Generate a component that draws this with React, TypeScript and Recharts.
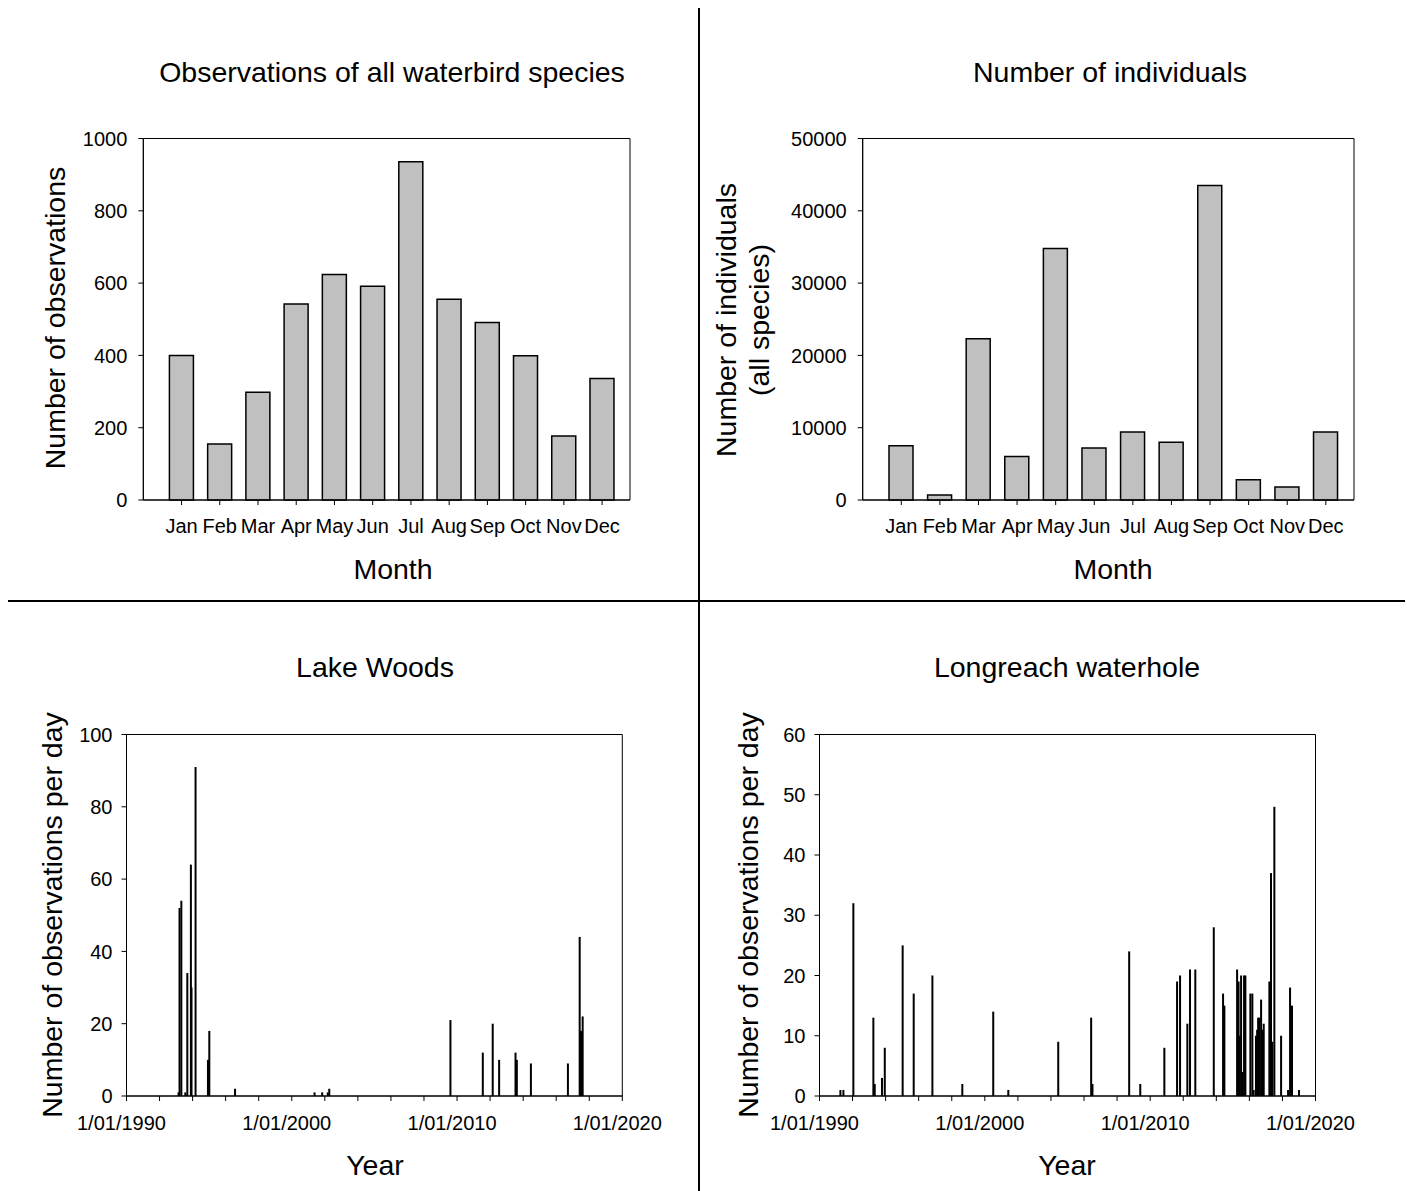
import React from 'react';
import { BarChart, Bar, XAxis, YAxis, ReferenceArea } from 'recharts';

// ---- monthly summaries (top row) ----
const months = ['Jan', 'Feb', 'Mar', 'Apr', 'May', 'Jun', 'Jul', 'Aug', 'Sep', 'Oct', 'Nov', 'Dec'];
const monthIndex = [1, 2, 3, 4, 5, 6, 7, 8, 9, 10, 11, 12];
const observationsByMonth = [400, 155, 298, 542, 624, 591, 936, 555, 491, 399, 177, 336];
const individualsByMonth = [7500, 700, 22300, 6000, 34800, 7200, 9400, 8000, 43500, 2800, 1800, 9400];
const observationTicks = [0, 200, 400, 600, 800, 1000];
const individualTicks = [0, 10000, 20000, 30000, 40000, 50000];

// ---- daily counts per site (bottom row) ----
const lakeWoodsDates = [
  '1993-02-24', '1993-03-18', '1993-04-27', '1993-07-24', '1993-09-06', '1993-11-24',
  '1993-12-08', '1994-03-07', '1994-12-06', '1995-01-05', '1996-07-27', '2001-05-19',
  '2001-11-03', '2002-03-07', '2002-04-09', '2009-08-08', '2011-07-24', '2012-02-28',
  '2012-07-19', '2013-07-16', '2013-08-14', '2014-06-21', '2016-09-16', '2017-06-03',
  '2017-07-02', '2017-08-08',
];
const lakeWoodsCounts = [
  1, 52, 54, 1, 34, 64,
  30, 91, 10, 18, 2, 1,
  1, 1, 2, 21, 12, 20,
  10, 12, 10, 9, 9, 44,
  18, 22,
];

const longreachDates = [
  '1991-04-08', '1991-06-13', '1992-01-19', '1993-04-05', '1993-05-05', '1993-10-12',
  '1993-12-13', '1995-01-12', '1995-09-13', '1996-10-30', '1998-08-22', '2000-07-05',
  '2001-06-03', '2004-06-10', '2006-06-07', '2006-07-06', '2008-09-24', '2009-05-27',
  '2010-11-10', '2011-08-18', '2011-10-23', '2012-04-01', '2012-05-30', '2012-09-24',
  '2013-11-06', '2014-05-30', '2014-06-28', '2015-04-05', '2015-05-08', '2015-05-30',
  '2015-07-02', '2015-07-31', '2015-09-06', '2015-10-05', '2016-01-23', '2016-03-07',
  '2016-04-05', '2016-05-26', '2016-06-21', '2016-07-13', '2016-08-11', '2016-09-16',
  '2016-10-15', '2016-11-13', '2017-03-18', '2017-04-23', '2017-05-22', '2017-07-06',
  '2017-12-02', '2018-05-05', '2018-06-18', '2018-07-31', '2019-01-01',
];
const longreachCounts = [
  1, 1, 32, 13, 2, 3,
  8, 25, 17, 20, 2, 14,
  1, 9, 13, 2, 24, 2,
  8, 19, 20, 12, 21, 21,
  28, 17, 15, 21, 19, 10,
  20, 4, 20, 20, 17, 17,
  1, 10, 11, 13, 13, 16,
  11, 12, 19, 37, 9, 48,
  10, 1, 18, 15, 1,
];

const yearTicks = [1990, 1992, 1994, 1996, 1998, 2000, 2002, 2004, 2006, 2008, 2010, 2012, 2014, 2016, 2018, 2020];
const lakeWoodsTicks = [0, 20, 40, 60, 80, 100];
const longreachTicks = [0, 10, 20, 30, 40, 50, 60];

const FONT = '"Liberation Sans", Arial, Helvetica, sans-serif';
const tickStyle = { fontSize: 20, fill: '#000', fontFamily: FONT };

const toTime = (iso: string) => {
  const [y, m, d] = iso.split('-').map(Number);
  return Date.UTC(y, m - 1, d);
};
const yearStart = (y: number) => Date.UTC(y, 0, 1);

const monthMax = 12.73;

function Text({ x, y, children, rotate = false }: { x: number; y: number; children: React.ReactNode; rotate?: boolean }) {
  return (
    <div
      style={{
        position: 'absolute',
        left: x,
        top: y,
        transform: `translate(-50%, -50%)${rotate ? ' rotate(-90deg)' : ''}`,
        whiteSpace: 'nowrap',
        fontFamily: FONT,
        fontSize: 28.5,
        lineHeight: '33px',
        color: '#000',
        textAlign: 'center',
      }}
    >
      {children}
    </div>
  );
}

function MonthPanel({ left, width, values, yTicks, margin }: any) {
  const data = monthIndex.map((m, i) => ({ month: m, value: values[i] }));
  const yMax = yTicks[yTicks.length - 1];
  return (
    <div style={{ position: 'absolute', left, top: 0 }}>
      <BarChart width={width} height={600} data={data} margin={margin}>
        <XAxis
          type="number"
          dataKey="month"
          domain={[0, monthMax]}
          ticks={monthIndex}
          interval={0}
          allowDataOverflow
          tickFormatter={(v) => months[v - 1]}
          tick={tickStyle}
          tickSize={5}
          tickMargin={14}
          height={40}
          axisLine={{ stroke: '#000' }}
          tickLine={{ stroke: '#000' }}
        />
        <YAxis
          domain={[0, yMax]}
          ticks={yTicks}
          interval={0}
          tick={tickStyle}
          tickSize={5}
          tickMargin={11}
          width={60}
          axisLine={{ stroke: '#000' }}
          tickLine={{ stroke: '#000' }}
        />
        <ReferenceArea x1={0} x2={monthMax} y1={0} y2={yMax} fill="none" stroke="#000" strokeWidth={1} ifOverflow="visible" />
        <Bar dataKey="value" fill="#c0c0c0" stroke="#000" strokeWidth={1.5} barSize={24} isAnimationActive={false} />
      </BarChart>
    </div>
  );
}

const Spike = (props: any) => {
  const { x, y, width, height } = props;
  if (height == null || height <= 0) return null;
  return <rect x={x + width / 2 - 1} y={y} width={2} height={height} fill="#000" />;
};

function SitePanel({ left, width, dates, counts, yTicks, margin }: any) {
  const data = dates.map((d: string, i: number) => ({ t: toTime(d), count: counts[i] }));
  const yMax = yTicks[yTicks.length - 1];
  const x0 = yearStart(yearTicks[0]);
  const x1 = yearStart(yearTicks[yearTicks.length - 1]);
  return (
    <div style={{ position: 'absolute', left, top: 600 }}>
      <BarChart width={width} height={591} data={data} margin={margin}>
        <XAxis
          type="number"
          dataKey="t"
          domain={[x0, x1]}
          ticks={yearTicks.map(yearStart)}
          interval={0}
          allowDataOverflow
          tickFormatter={(v) => {
            const y = new Date(v).getUTCFullYear();
            return y % 10 === 0 ? `1/01/${y}` : '';
          }}
          tick={{ ...tickStyle, dx: -5 }}
          tickSize={5}
          tickMargin={15}
          height={40}
          axisLine={{ stroke: '#000' }}
          tickLine={{ stroke: '#000' }}
        />
        <YAxis
          domain={[0, yMax]}
          ticks={yTicks}
          interval={0}
          tick={tickStyle}
          tickSize={5}
          tickMargin={9}
          width={60}
          axisLine={{ stroke: '#000' }}
          tickLine={{ stroke: '#000' }}
        />
        <ReferenceArea x1={x0} x2={x1} y1={0} y2={yMax} fill="none" stroke="#000" strokeWidth={1} ifOverflow="visible" />
        <Bar dataKey="count" fill="#000" shape={<Spike />} isAnimationActive={false} />
      </BarChart>
    </div>
  );
}

export default function App() {
  return (
    <div style={{ position: 'absolute', left: 0, top: 0, width: 1407, height: 1191, background: '#fff', overflow: 'hidden' }}>
      {/* quadrant dividers */}
      <div style={{ position: 'absolute', left: 698, top: 8, width: 2, height: 1183, background: '#000' }} />
      <div style={{ position: 'absolute', left: 8, top: 600, width: 1397, height: 2, background: '#000' }} />

      <MonthPanel
        left={0}
        width={698}
        values={observationsByMonth}
        yTicks={observationTicks}
        margin={{ top: 138.5, right: 68, bottom: 60, left: 83.3 }}
      />
      <MonthPanel
        left={700}
        width={707}
        values={individualsByMonth}
        yTicks={individualTicks}
        margin={{ top: 138.5, right: 53, bottom: 60, left: 102.7 }}
      />
      <SitePanel
        left={0}
        width={698}
        dates={lakeWoodsDates}
        counts={lakeWoodsCounts}
        yTicks={lakeWoodsTicks}
        margin={{ top: 134.5, right: 75.7, bottom: 55, left: 66.5 }}
      />
      <SitePanel
        left={700}
        width={707}
        dates={longreachDates}
        counts={longreachCounts}
        yTicks={longreachTicks}
        margin={{ top: 134.5, right: 91.5, bottom: 55, left: 59.5 }}
      />

      <Text x={392} y={72}>Observations of all waterbird species</Text>
      <Text x={55} y={318} rotate>Number of observations</Text>
      <Text x={393} y={569}>Month</Text>

      <Text x={1110} y={72}>Number of individuals</Text>
      <Text x={743} y={320} rotate>
        Number of individuals
        <br />
        (all species)
      </Text>
      <Text x={1113} y={569}>Month</Text>

      <Text x={375} y={667}>Lake Woods</Text>
      <Text x={52} y={915} rotate>Number of observations per day</Text>
      <Text x={375} y={1165}>Year</Text>

      <Text x={1067} y={667}>Longreach waterhole</Text>
      <Text x={748} y={915} rotate>Number of observations per day</Text>
      <Text x={1067} y={1165}>Year</Text>
    </div>
  );
}
